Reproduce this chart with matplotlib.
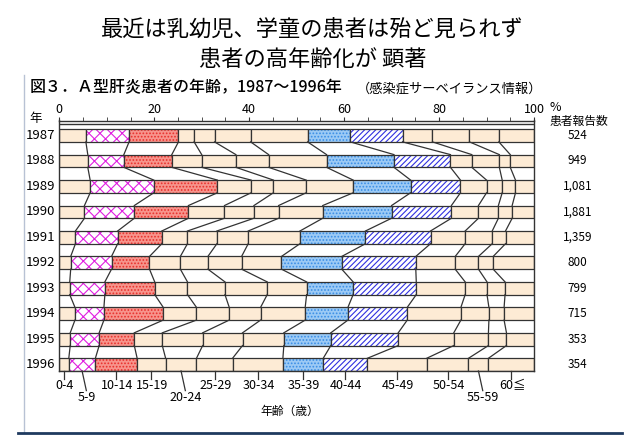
import numpy as np
import matplotlib
matplotlib.use("Agg")
import matplotlib.pyplot as plt
from matplotlib.lines import Line2D

plt.rcParams['font.family'] = ['Noto Sans CJK JP', 'DejaVu Sans']
plt.rcParams['hatch.linewidth'] = 0.8

# donnees (% par tranche d'age, 0-4 ... 60+)
annees = ['1987', '1988', '1989', '1990', '1991',
          '1992', '1993', '1994', '1995', '1996']
rapports = ['524', '949', '1,081', '1,881', '1,359',
            '800', '799', '715', '353', '354']
ages = ['0-4', '5-9', '10-14', '15-19', '20-24', '25-29', '30-34',
        '35-39', '40-44', '45-49', '50-54', '55-59', '60≦']

p1987 = [5.6, 9.1, 10.4, 3.3, 4.3, 7.6, 12.0, 9.0, 11.0, 6.3, 7.8, 6.2, 7.4]
p1988 = [6.0, 7.6, 10.1, 6.3, 7.2, 6.9, 12.2, 14.2, 11.9, 4.5, 5.8, 2.3, 5.0]
p1989 = [6.5, 13.4, 13.4, 7.1, 4.7, 6.9, 9.9, 12.1, 10.5, 5.5, 3.3, 2.8, 3.9]
p1990 = [5.3, 10.5, 11.4, 7.6, 6.2, 5.2, 9.3, 14.5, 12.6, 5.7, 4.2, 2.9, 4.6]
p1991 = [3.4, 8.9, 9.3, 5.4, 6.2, 6.6, 10.9, 13.8, 13.7, 7.3, 5.7, 2.8, 6.0]
p1992 = [2.4, 8.6, 8.0, 6.5, 5.8, 7.1, 8.4, 12.7, 15.6, 8.3, 4.9, 3.1, 8.6]
p1993 = [2.2, 7.4, 10.5, 6.9, 7.9, 8.9, 8.3, 9.8, 13.3, 10.3, 4.6, 3.8, 6.1]
p1994 = [3.3, 6.1, 12.5, 7.0, 6.9, 6.6, 9.4, 9.0, 12.5, 11.3, 5.9, 3.2, 6.3]
p1995 = [2.3, 6.1, 7.4, 5.9, 8.5, 8.4, 8.7, 9.9, 14.2, 11.7, 7.3, 3.8, 5.8]
p1996 = [2.0, 5.6, 8.8, 6.0, 6.5, 7.6, 10.6, 8.5, 9.3, 12.5, 8.8, 4.2, 9.6]

parts = np.array([p1987, p1988, p1989, p1990, p1991,
                  p1992, p1993, p1994, p1995, p1996])
cumul = np.cumsum(parts, axis=1)
gauche = cumul - parts

beige = '#fdebd5'
trait = '#333333'
# style des tranches mises en valeur : (fond, motif, couleur du motif)
styles = {1: ('white', 'xxx', '#e020e0'),
          2: ('#f7948c', '.....', '#e8302c'),
          7: ('#9ccaf5', '.....', '#3a8ee6'),
          8: ('white', '//////', '#3030e0')}

fig = plt.figure(figsize=(6.25, 4.41), dpi=100)
fig.patch.set_facecolor('white')

fig.text(0.5, 0.932, '最近は乳幼児、学童の患者は殆ど見られず',
         ha='center', va='center', fontsize=16)
fig.text(0.5, 0.864, '患者の高年齢化が 顕著',
         ha='center', va='center', fontsize=16)
fig.text(30 / 625, 1 - 88 / 441, '図３．Ａ型肝炎患者の年齢，1987～1996年',
         ha='left', va='center', fontsize=11.5, fontweight=500)
fig.text(357 / 625, 1 - 89 / 441, '（感染症サーベイランス情報）',
         ha='left', va='center', fontsize=9.5)

# cadre exterieur
fig.add_artist(Line2D([24 / 625, 24 / 625], [1 - 75 / 441, 1 - 432 / 441],
                      color='#b8c2d4', lw=1))
fig.add_artist(Line2D([18 / 625, 622 / 625], [1 - 433 / 441, 1 - 433 / 441],
                      color='#1f3a5f', lw=2))

ax = fig.add_axes([59.3 / 625, 1 - 371 / 441, (534 - 59.3) / 625,
                   (371 - 120.5) / 441])
ax.set_xlim(0, 100)
ax.set_ylim(9.25, -0.59)

n = len(annees)
y = np.arange(n)
h = 0.5

for k in range(len(ages)):
    if k in styles:
        fond, motif, coul = styles[k]
        ax.barh(y, parts[:, k], left=gauche[:, k], height=h,
                color=fond, hatch=motif, edgecolor=coul, lw=0)
        ax.barh(y, parts[:, k], left=gauche[:, k], height=h,
                fill=False, edgecolor=trait, lw=0.9)
    else:
        ax.barh(y, parts[:, k], left=gauche[:, k], height=h,
                color=beige, edgecolor=trait, lw=0.9)

# lignes de liaison entre les annees
for r in range(n - 1):
    for k in range(len(ages) - 1):
        ax.plot([cumul[r, k], cumul[r + 1, k]], [r + h / 2, r + 1 - h / 2],
                color=trait, lw=0.9)

ax.axhline(-0.45, color=trait, lw=1)

for s in ax.spines.values():
    s.set_color(trait)
    s.set_linewidth(1)

ax.xaxis.set_ticks_position('top')
ax.set_xticks(range(0, 101, 20))
ax.set_xticks(range(0, 101, 5), minor=True)
ax.tick_params(axis='x', which='both', direction='out', length=3,
               color=trait, labelsize=9, pad=0.5)
ax.set_yticks([])
ax.text(103.2, -1.12, '%', ha='left', va='center', fontsize=9)

for r in range(n):
    ax.text(-0.8, r, annees[r], ha='right', va='center', fontsize=9.5)
    ax.text(109.2, r, rapports[r], ha='center', va='center', fontsize=8.5)
ax.text(-5, -0.66, '年', ha='center', va='center', fontsize=9)
ax.text(109.5, -0.56, '患者報告数', ha='center', va='center', fontsize=8.5)

# etiquettes des tranches d'age sous la derniere annee
centres = gauche[-1] + parts[-1] / 2
bas = [1, 4, 11]
for k, c in enumerate(centres):
    if k in bas:
        ax.plot([c, c + 0.9], [9.25, 10.02], color=trait, lw=0.9,
                clip_on=False)
        ax.text(c + 1.0, 10.3, ages[k], ha='center', va='center',
                fontsize=9)
    else:
        ax.plot([c, c], [9.25, 9.57], color=trait, lw=0.9, clip_on=False)
        ax.text(c + 0.2, 9.83, ages[k], ha='center', va='center',
                fontsize=9)
ax.text(48.5, 10.85, '年齢（歳）', ha='center', va='center', fontsize=8.5)

fig.savefig('out.png', dpi=100, facecolor='white')
